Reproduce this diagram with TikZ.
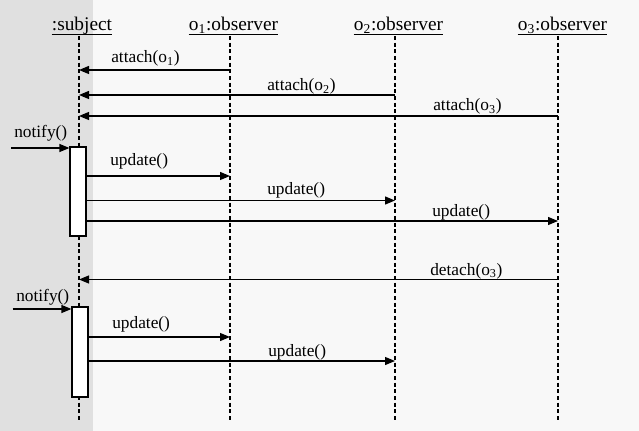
\documentclass[tikz,border=0pt]{standalone}
\usepackage{fontspec}
\setmainfont{Liberation Serif}
\usepackage{xcolor}
\usetikzlibrary{arrows.meta}
\definecolor{paneback}{HTML}{F8F8F8}
\definecolor{paneside}{HTML}{E0E0E0}

\begin{document}
\begin{tikzpicture}[x=0.75pt, y=-0.75pt,
    hdr/.style={inner sep=0pt, anchor=base, font=\fontsize{14.5}{16}\selectfont},
    lbl/.style={inner sep=0pt, anchor=base west, font=\fontsize{13}{15}\selectfont},
    life/.style={line width=1.2pt, dash pattern=on 3pt off 2pt},
    msg/.style={line width=0.9pt, -{Triangle[length=7.5pt, width=6pt]}},
    actbox/.style={draw, line width=0.9pt, fill=white, inner sep=0pt, minimum width=12pt}]
        \useasboundingbox (0,0) rectangle (639,431);
        \fill[paneback] (0,0) rectangle (639,431);
        \fill[paneside] (0,0) rectangle (93,431);

        \node[hdr] (hs) at (82,31) {:subject};
        \node[hdr] (h1) at (233.5,31) {o\textsubscript{1}:observer};
        \node[hdr] (h2) at (398.5,31) {o\textsubscript{2}:observer};
        \node[hdr] (h3) at (562.5,31) {o\textsubscript{3}:observer};
        \foreach \h in {hs,h1,h2,h3}
          \draw[line width=0.8pt] ([yshift=-2.6pt]\h.base west) -- ([yshift=-2.6pt]\h.base east);

        \coordinate (s) at (79,36);
        \coordinate (o1) at (230,36);
        \coordinate (o2) at (395,36);
        \coordinate (o3) at (558,36);
        \foreach \l in {s,o1,o2,o3}
          \draw[life] (\l) -- (\l |- 0,420);

        \draw[msg] (o1 |- 0,70) -- (s |- 0,70);
        \node[lbl] (a1) at (111,63) {attach(o\textsubscript{1})};
        \draw[msg] (o2 |- 0,95) -- (s |- 0,95);
        \node[lbl] (a2) at (267,91) {attach(o\textsubscript{2})};
        \draw[msg] (o3 |- 0,116) -- (s |- 0,116);
        \node[lbl] (a3) at (433,111) {attach(o\textsubscript{3})};

        \node[actbox, minimum height=66.75pt] (act1) at (78,191.5) {};
        \coordinate (n1) at (11,148);
        \draw[msg] (n1) -- (n1 -| act1.west);
        \node[lbl] (ln1) at (14,138) {notify()};
        \draw[msg] (act1.east |- 0,176) -- (o1 |- 0,176);
        \node[lbl] (u1) at (110,166) {update()};
        \draw[msg] (act1.east |- 0,200.5) -- (o2 |- 0,200.5);
        \node[lbl] (u2) at (267,195) {update()};
        \draw[msg] (act1.east |- 0,221) -- (o3 |- 0,221);
        \node[lbl] (u3) at (432,216.5) {update()};

        \draw[msg] (o3 |- 0,279.5) -- (s |- 0,279.5);
        \node[lbl] (d3) at (430,275) {detach(o\textsubscript{3})};

        \node[actbox, minimum height=67.5pt] (act2) at (80,352) {};
        \coordinate (n2) at (12.5,309);
        \draw[msg] (n2) -- (n2 -| act2.west);
        \node[lbl] (ln2) at (16,301.5) {notify()};
        \draw[msg] (act2.east |- 0,337) -- (o1 |- 0,337);
        \node[lbl] (u4) at (112,328) {update()};
        \draw[msg] (act2.east |- 0,361) -- (o2 |- 0,361);
        \node[lbl] (u5) at (268,356) {update()};
      \end{tikzpicture}
\end{document}
